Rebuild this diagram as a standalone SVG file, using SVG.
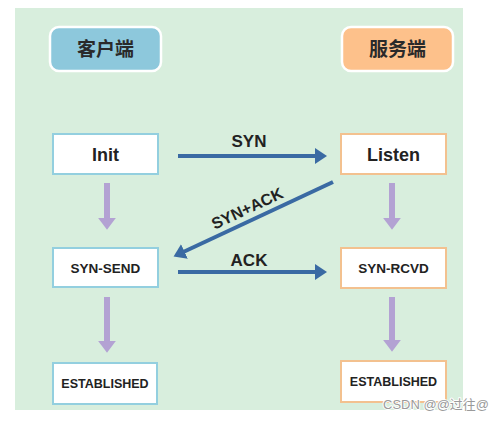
<svg xmlns="http://www.w3.org/2000/svg" width="499" height="421" viewBox="0 0 499 421">
<style>
.bg{fill:#d8eedd}
.hdr{stroke:#ffffff;stroke-width:2.5}
.cbox{fill:#ffffff;stroke:#93cfdf;stroke-width:2}
.sbox{fill:#ffffff;stroke:#f3c18f;stroke-width:2}
.t{font-family:"Liberation Sans","Noto Sans",sans-serif;font-weight:bold;fill:#222;text-anchor:middle}
.h{font-family:"Noto Sans CJK SC","Noto Sans",sans-serif;font-weight:bold;fill:#2a2a2a;text-anchor:middle;font-size:19px}
.blue{stroke:#3a6aa3;stroke-width:4;fill:none}
.purple{stroke:#b3a2d3;stroke-width:6;fill:none}
</style>
<defs>
<marker id="bh" markerWidth="4" markerHeight="4" refX="1.5" refY="2" orient="auto" markerUnits="strokeWidth"><path d="M0,0 L3,2 L0,4 Z" fill="#3a6aa3"/></marker>
<marker id="ph" markerWidth="3" markerHeight="3" refX="1.2" refY="1.5" orient="auto" markerUnits="strokeWidth"><path d="M0,0 L2,1.5 L0,3 Z" fill="#b3a2d3"/></marker>
</defs>
<rect class="bg" x="15" y="8" width="448" height="402"/>
<g id="client-header"><rect class="hdr" x="50" y="27" width="111" height="44" rx="9" fill="#8dc8dc"/><text class="h" x="105.5" y="56">客户端</text></g>
<g id="server-header"><rect class="hdr" x="342" y="27" width="111" height="44" rx="9" fill="#fdc18b"/><text class="h" x="397.5" y="56">服务端</text></g>
<g id="init"><rect class="cbox" x="53" y="134" width="105" height="40"/><text class="t" x="105.5" y="161" font-size="18">Init</text></g>
<g id="listen"><rect class="sbox" x="341" y="134" width="105" height="40"/><text class="t" x="393.5" y="161" font-size="18">Listen</text></g>
<g id="syn-send"><rect class="cbox" x="53" y="248" width="105" height="39"/><text class="t" x="105.5" y="273" font-size="13.5">SYN-SEND</text></g>
<g id="syn-rcvd"><rect class="sbox" x="341" y="248" width="105" height="40"/><text class="t" x="393.5" y="273" font-size="13.5">SYN-RCVD</text></g>
<g id="est-client"><rect class="cbox" x="53" y="363" width="104" height="41"/><text class="t" x="105" y="388" font-size="12.5">ESTABLISHED</text></g>
<g id="est-server"><rect class="sbox" x="341" y="361" width="105" height="41"/><text class="t" x="393.5" y="386" font-size="12.5">ESTABLISHED</text></g>
<g id="connectors">
<line class="blue" x1="178" y1="156" x2="321" y2="156" marker-end="url(#bh)"/>
<line class="blue" x1="178" y1="272" x2="321" y2="272" marker-end="url(#bh)"/>
<line class="blue" x1="333" y1="182" x2="179" y2="254" marker-end="url(#bh)"/>
<line class="purple" x1="107" y1="183" x2="107" y2="225" marker-end="url(#ph)"/>
<line class="purple" x1="107" y1="297" x2="107" y2="348" marker-end="url(#ph)"/>
<line class="purple" x1="392" y1="183" x2="392" y2="225" marker-end="url(#ph)"/>
<line class="purple" x1="392" y1="297" x2="392" y2="347" marker-end="url(#ph)"/>
<text class="t" x="249" y="147" font-size="17">SYN</text>
<text class="t" x="249" y="266" font-size="17">ACK</text>
<text class="t" x="247" y="214" font-size="16" transform="rotate(-25 247 208)">SYN+ACK</text>
</g>
<text x="383" y="409" font-family="Liberation Sans,'Noto Sans CJK SC',sans-serif" font-size="13" fill="#9a9a9a" stroke="#ffffff" stroke-width="2" paint-order="stroke" stroke-linejoin="round">CSDN @@过往@</text>
</svg>
